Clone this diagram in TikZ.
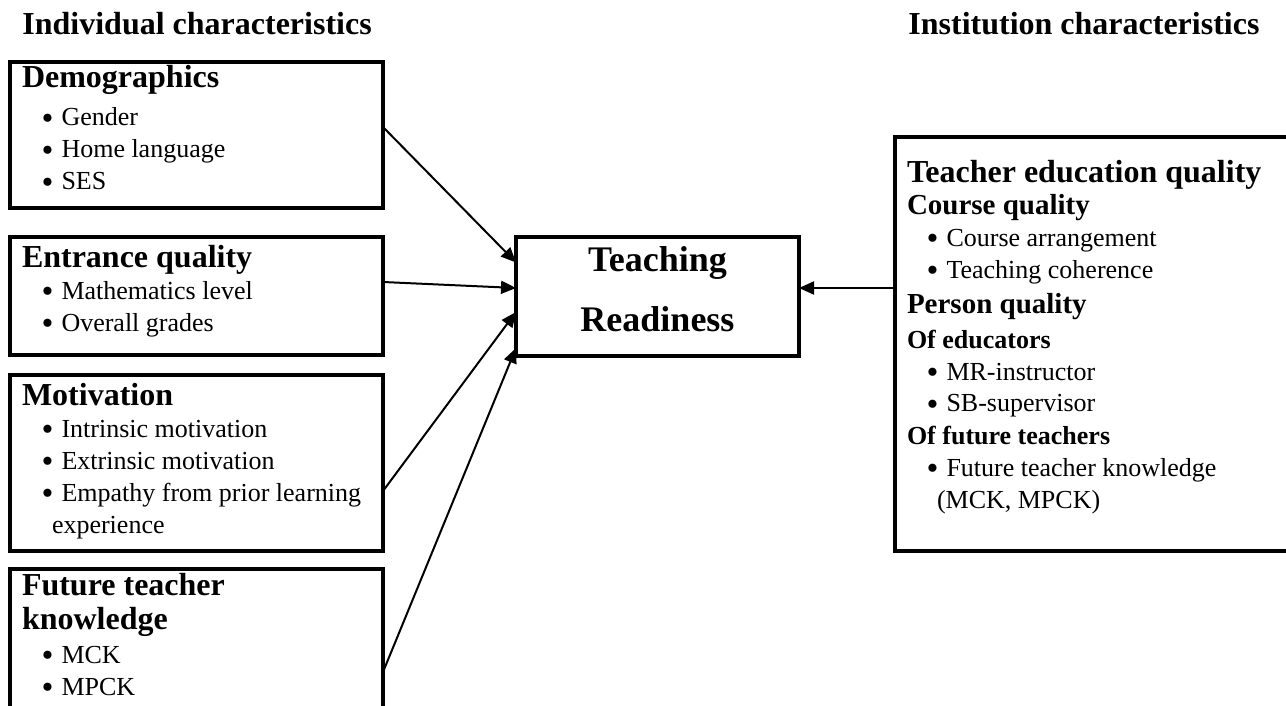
\documentclass[tikz,border=0pt]{standalone}
\usepackage{fontspec}
\setmainfont{Liberation Serif}
\usetikzlibrary{positioning, arrows.meta}

\newcommand{\hd}[1]{{\fontsize{16}{16}\selectfont\bfseries #1}}
\newcommand{\subhd}[1]{{\fontsize{14.5}{16}\selectfont\bfseries #1}}
\newcommand{\minhd}[1]{{\bfseries #1}}
\newcommand{\itm}[1]{\hspace*{9.8pt}\raisebox{-1.8pt}{\fontsize{17}{16}\selectfont\textbullet}\hspace{4pt}#1}
\newcommand{\boxtext}[3]{\parbox[c][#1][t]{#2}{\fontsize{13}{16}\selectfont #3}}

\begin{document}
\begin{tikzpicture}[
      x=0.5pt, y=-0.5pt,
      charbox/.style={draw, line width=2pt, inner xsep=6pt, inner ysep=0pt, outer sep=0pt, anchor=north west},
      title/.style={anchor=base west, inner sep=0pt, font=\fontsize{16}{16}\selectfont\bfseries},
      link/.style={-{Triangle[length=7.5pt, width=6.5pt]}, line width=1pt}
    ]
      \useasboundingbox (0,0) rectangle (1286,706);
      \clip (0,0) rectangle (1286,706);

      \node[title] (indiv) at (22,35) {Individual characteristics};
      \node[title] (inst) at (908,35) {Institution characteristics};

      % individual side
      \node[charbox] (demo) at (10,62) {\boxtext{73pt}{174.5pt}{\rule{0pt}{13pt}\hd{Demographics}\\[3pt]
        \itm{Gender}\\ \itm{Home language}\\ \itm{SES}}};
      \node[charbox] (entr) at (10,237) {\boxtext{59pt}{174.5pt}{\rule{0pt}{15pt}\hd{Entrance quality}\\
        \itm{Mathematics level}\\ \itm{Overall grades}}};
      \node[charbox] (motiv) at (10,375) {\boxtext{88pt}{174.5pt}{\rule{0pt}{15pt}\hd{Motivation}\\
        \itm{Intrinsic motivation}\\ \itm{Extrinsic motivation}\\ \itm{Empathy from prior learning}\\
        \hspace*{15pt}experience}};
      \node[charbox] (future) at (10,569) {\boxtext{70.5pt}{174.5pt}{\rule{0pt}{13pt}\hd{Future teacher}\\[1pt]
        \hd{knowledge}\\[1pt] \itm{MCK}\\ \itm{MPCK}}};

      % outcome
      \node[charbox, minimum width=141.5pt, minimum height=59.5pt, align=center,
        font=\fontsize{18}{30}\selectfont\bfseries] (ready) at (516,237) {Teaching\\Readiness\rule[-7pt]{0pt}{7pt}};

      % institution side
      \node[charbox] (teq) at (895,137) {\boxtext{207pt}{188pt}{\rule{0pt}{22.5pt}\hd{Teacher education quality}\\
        \subhd{Course quality}\\ \itm{Course arrangement}\\ \itm{Teaching coherence}\\[1.5pt]
        \subhd{Person quality}\\[1.5pt] \minhd{Of educators}\\ \itm{MR-instructor}\\ \itm{SB-supervisor}\\
        \minhd{Of future teachers}\\ \itm{Future teacher knowledge}\\ \hspace*{15pt}(MCK, MPCK)}};

      \draw[link] ([yshift=4pt]demo.east) -- ([yshift=17pt]ready.west);
      \draw[link] ([yshift=7pt]entr.east) -- ([yshift=4.25pt]ready.west);
      \draw[link] ([yshift=-14pt]motiv.east) -- ([yshift=-7.75pt]ready.west);
      \draw[link] ([yshift=-51.5pt]future.north east) -- ([yshift=-25.75pt]ready.west);
      \draw[link] ([yshift=28pt]teq.west) -- ([yshift=4.25pt]ready.east);
    \end{tikzpicture}
\end{document}
